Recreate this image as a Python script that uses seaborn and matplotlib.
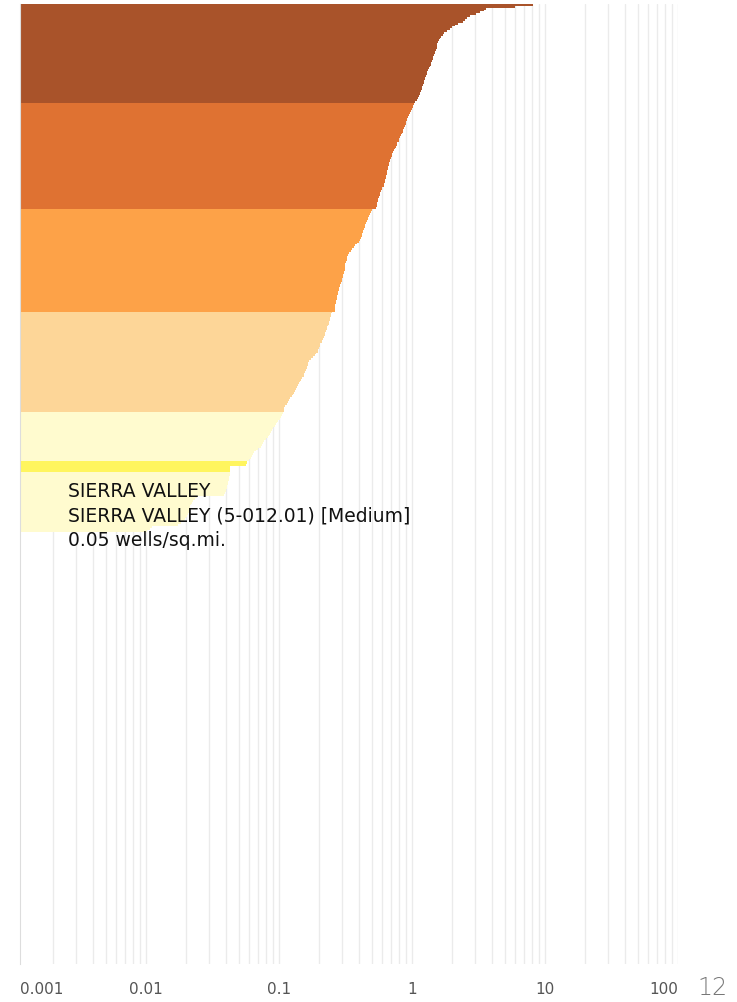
import matplotlib
matplotlib.use("Agg")
import matplotlib.pyplot as plt
import matplotlib.ticker as mticker
import numpy as np
import pandas as pd
import seaborn as sns

# wells per sq. mile for each basin, sorted high to low, one list per colour class
class_1 = [8.1, 5.9, 3.6, 3.45, 3.25, 3.03, 2.73, 2.59, 2.50, 2.42,
           2.22, 2.11, 2.00, 1.93, 1.83, 1.74, 1.71, 1.65, 1.62, 1.60,
           1.57, 1.55, 1.54, 1.53, 1.51, 1.49, 1.48, 1.46, 1.45, 1.44,
           1.41, 1.40, 1.38, 1.37, 1.34, 1.32, 1.30, 1.29, 1.27, 1.26,
           1.25, 1.24, 1.23, 1.21, 1.19, 1.18, 1.16, 1.15, 1.14, 1.13,
           1.11, 1.09, 1.05]
class_2 = [1.04, 1.02, 1.01, 1.00, 0.983, 0.966, 0.949, 0.933, 0.925, 0.917,
           0.901, 0.894, 0.886, 0.871, 0.863, 0.856, 0.841, 0.834, 0.819, 0.805,
           0.792, 0.778, 0.771, 0.758, 0.745, 0.732, 0.719, 0.713, 0.707, 0.695,
           0.689, 0.683, 0.677, 0.671, 0.666, 0.660, 0.654, 0.649, 0.646, 0.643,
           0.638, 0.632, 0.627, 0.616, 0.611, 0.600, 0.595, 0.585, 0.575, 0.570,
           0.565, 0.555, 0.553, 0.550, 0.546, 0.544, 0.536]
class_3 = [0.500, 0.491, 0.483, 0.475, 0.471, 0.467, 0.459, 0.451, 0.447, 0.443,
           0.436, 0.428, 0.425, 0.421, 0.418, 0.414, 0.410, 0.403, 0.389, 0.376,
           0.366, 0.354, 0.345, 0.339, 0.333, 0.327, 0.325, 0.322, 0.319, 0.316,
           0.315, 0.313, 0.312, 0.310, 0.308, 0.305, 0.303, 0.300, 0.298, 0.295,
           0.290, 0.288, 0.283, 0.282, 0.280, 0.278, 0.275, 0.273, 0.272, 0.270,
           0.268, 0.266, 0.264, 0.263, 0.262]
class_4 = [0.250, 0.248, 0.246, 0.243, 0.242, 0.238, 0.236, 0.233, 0.231, 0.230,
           0.226, 0.223, 0.220, 0.218, 0.214, 0.210, 0.209, 0.205, 0.203, 0.200,
           0.198, 0.196, 0.190, 0.185, 0.180, 0.174, 0.168, 0.165, 0.164, 0.163,
           0.162, 0.161, 0.158, 0.155, 0.153, 0.150, 0.146, 0.144, 0.141, 0.138,
           0.137, 0.134, 0.133, 0.130, 0.127, 0.125, 0.122, 0.119, 0.116, 0.114,
           0.111, 0.110, 0.110, 0.109]
class_5 = [0.107, 0.105, 0.103, 0.102, 0.0992, 0.0966, 0.0950, 0.0933, 0.0909, 0.0885,
           0.0871, 0.0855, 0.0841, 0.0827, 0.0797, 0.0775, 0.0758, 0.0745, 0.0733, 0.0694,
           0.0669, 0.0645, 0.0635, 0.0625, 0.0614, 0.0592, 0.0574, 0.0572, 0.0570, 0.0428,
           0.0428, 0.0427, 0.0426, 0.0425, 0.0423, 0.0420, 0.0418, 0.0415, 0.0412, 0.0410,
           0.0406, 0.0402, 0.0398, 0.0392, 0.0385, 0.0240, 0.0232, 0.0226, 0.0221, 0.0218,
           0.0215, 0.0213, 0.0211, 0.0209, 0.0207, 0.0204, 0.0201, 0.0197, 0.0192, 0.0185,
           0.0175, 0.0112, 0.0107, 0.0101]

class_names = ["very high", "high", "medium high", "medium", "low"]
class_colors = ["#a9532a", "#df7232", "#fda248", "#fdd698", "#fffbcf"]
highlight_color = "#fff55e"
highlight_rows = range(245, 251)   # hovered basin

n_basins = 515   # basins on the axis, the rest have no wells

tooltip_lines = ["SIERRA VALLEY",
                 "SIERRA VALLEY (5-012.01) [Medium]",
                 "0.05 wells/sq.mi."]

tick_labels = ["0.001", "0.01", "0.1", "1", "10", "100"]
tick_values = [0.00113, 0.01, 0.1, 1, 10, 100]

# build the table
rows = []
for name, vals in zip(class_names, [class_1, class_2, class_3, class_4, class_5]):
    for v in vals:
        rows.append((name, v))
df = pd.DataFrame(rows, columns=["cls", "density"])
df["rank"] = np.arange(len(df))
df.loc[df["rank"].isin(highlight_rows), "cls"] = "highlight"

palette = dict(zip(class_names, class_colors))
palette["highlight"] = highlight_color

sns.set_style("white")
plt.rcParams["font.family"] = ["DejaVu Sans"]

fig = plt.figure(figsize=(7.37, 10.03), dpi=100)
ax = fig.add_axes([20 / 737, 1 - 965 / 1003, 658 / 737, 960 / 1003])

ax.set_xscale("log")
sns.barplot(data=df, x="density", y="rank", hue="cls", palette=palette,
            orient="h", width=1.0, dodge=False, legend=False, linewidth=0,
            saturation=1, ax=ax, zorder=2)

ax.set_xlim(tick_values[0], tick_values[-1])
ax.set_ylim(n_basins - 0.5, -0.5)

# grid on every log step
ax.xaxis.set_minor_locator(mticker.LogLocator(base=10, subs=np.arange(1, 10), numticks=30))
ax.xaxis.set_minor_formatter(mticker.NullFormatter())
ax.xaxis.remove_overlapping_locs = False
ax.grid(which="minor", axis="x", color="#ebebeb", lw=1, zorder=0)
ax.grid(which="major", visible=False)
ax.set_axisbelow(True)

ax.set_xticks(tick_values)
ax.set_xticklabels(tick_labels)
ax.tick_params(axis="x", which="both", length=0, pad=12, labelsize=11, labelcolor="#555555")
labels = ax.get_xticklabels()
labels[0].set_horizontalalignment("left")
labels[-1].set_horizontalalignment("right")
ax.set_yticks([])
ax.set_xlabel("")
ax.set_ylabel("")
for s in ["top", "right", "bottom"]:
    ax.spines[s].set_visible(False)
ax.spines["left"].set_color("#dddddd")

# tooltip
for i, line in enumerate(tooltip_lines):
    fig.text(68 / 737, 1 - (497 + 24.5 * i) / 1003, line, fontsize=13.5,
             color="#111111", va="baseline", ha="left")

fig.text(712 / 737, 1 - 988 / 1003, "12", fontsize=17, color="#777777",
         fontweight="light", ha="center", va="center")

fig.savefig("out.png", dpi=100)
